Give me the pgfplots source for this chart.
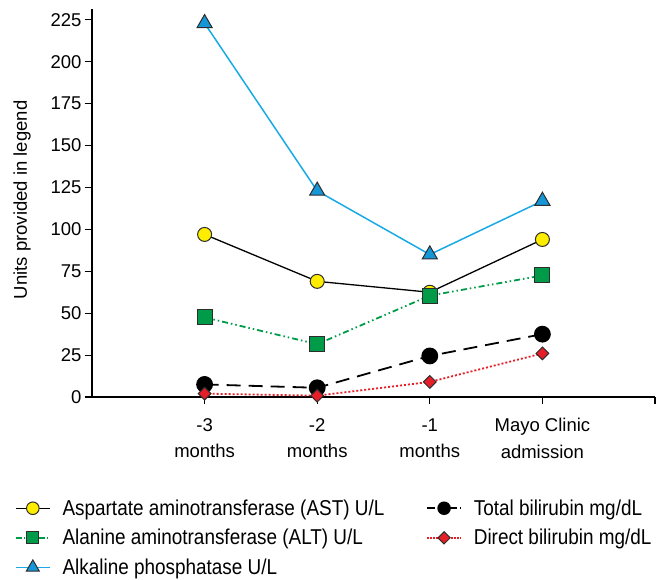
\documentclass[border=0pt]{standalone}
\usepackage{fontspec}
\setmainfont{Liberation Sans}
\newfontfamily\legendfont[FakeStretch=0.88]{Liberation Sans}
\usepackage{pgfplots}
\pgfplotsset{compat=1.18}
\definecolor{myyellow}{RGB}{255,237,0}
\definecolor{mygreen}{RGB}{0,155,72}
\definecolor{myblue}{RGB}{25,170,230}
\definecolor{mybluefill}{RGB}{20,150,215}
\definecolor{myred}{RGB}{230,30,40}
\definecolor{edge}{RGB}{45,45,45}
\begin{document}
\begin{tikzpicture}
\useasboundingbox (0,0) rectangle (660pt,579pt);
\begin{axis}[
  at={(92pt,182pt)}, anchor=south west,
  scale only axis, width=563pt, height=388pt,
  xmin=-1, xmax=4, ymin=0, ymax=231.5,
  axis x line*=bottom, axis y line*=left,
  clip=false,
  xtick={0,1,2,3,4},
  xticklabels={{-3\\months},{-2\\months},{-1\\months},{Mayo Clinic\\admission},{}},
  ytick={0,25,50,75,100,125,150,175,200,225},
  tick align=outside, major tick length=7pt,
  tick style={black, line width=1.2pt},
  axis line style={black, line width=1.5pt},
  /pgf/number format/assume math mode=true,
  ticklabel style={font=\fontsize{18.5}{26.5}\selectfont},
  xticklabel style={align=center, yshift=-11pt},
  ylabel={Units provided in legend},
  ylabel style={font=\fontsize{18.5}{22}\selectfont, at={(axis description cs:-0.124,0.508)}, anchor=center},
  legend columns=3, transpose legend,
  legend style={at={(axis description cs:-0.137,-0.259)}, anchor=north west, draw=none, fill=none, inner sep=0pt,
    font=\legendfont\fontsize{21.5}{25}\selectfont, row sep=8.5pt,
    /tikz/every even column/.append style={column sep=40pt},
    /tikz/every odd column/.append style={column sep=10pt}},
  legend cell align=left,
  legend image code/.code={\draw[mark repeat=2,mark phase=2,#1] plot coordinates {(0pt,0pt) (17pt,0pt) (34pt,0pt)};},
]
\addplot[forget plot, black, line width=1.3pt, mark=*, mark size=7pt, mark options={solid, fill=myyellow, draw=edge, line width=1pt}]
  coordinates {(0,97) (1,69) (2,62.5) (3,94)};
\addplot[forget plot, mygreen, line width=1.8pt, dash pattern=on 6pt off 3pt on 1.5pt off 3pt on 1.5pt off 3pt, mark=square*, mark size=7.5pt, mark options={solid, fill=mygreen, draw=edge, line width=1pt}]
  coordinates {(0,47.5) (1,31.5) (2,60.5) (3,72.5)};
\addplot[forget plot, myblue, line width=1.5pt, mark=triangle*, mark size=8.7pt, mark options={solid, fill=mybluefill, draw=edge, line width=1pt}]
  coordinates {(0,223) (1,123) (2,85) (3,117)};
\addplot[forget plot, black, line width=1.8pt, dash pattern=on 14pt off 8pt, mark=*, mark size=7.5pt, mark options={solid, fill=black, draw=black}]
  coordinates {(0,7.5) (1,5.5) (2,24.5) (3,37.5)};
\addplot[forget plot, myred, line width=1.8pt, dash pattern=on 2pt off 2pt, mark=square*, mark size=4.5pt, mark options={solid, rotate=45, fill=myred, draw=edge, line width=1pt}]
  coordinates {(0,2) (1,0.8) (2,9) (3,26)};

\addlegendimage{black, line width=1.2pt, mark=*, mark size=6.3pt, mark options={solid, fill=myyellow, draw=edge, line width=1pt}}
\addlegendentry{Aspartate aminotransferase (AST) U/L}
\addlegendimage{mygreen, line width=1.5pt, dash pattern=on 6pt off 2pt on 1.5pt off 2pt, mark=square*, mark size=6pt, mark options={solid, fill=mygreen, draw=edge, line width=1pt}}
\addlegendentry{Alanine aminotransferase (ALT) U/L}
\addlegendimage{myblue, line width=1.5pt, mark=triangle*, mark size=7.5pt, mark options={solid, fill=mybluefill, draw=edge, line width=1pt}}
\addlegendentry{Alkaline phosphatase U/L}
\addlegendimage{black, line width=1.5pt, dash pattern=on 8pt off 3pt, mark=*, mark size=6pt, mark options={solid, fill=black, draw=black}}
\addlegendentry{Total bilirubin mg/dL}
\addlegendimage{myred, line width=1.5pt, dash pattern=on 1.5pt off 1.5pt, mark=square*, mark size=4.3pt, mark options={solid, rotate=45, fill=myred, draw=edge, line width=1pt}}
\addlegendentry{Direct bilirubin mg/dL}
\end{axis}
\end{tikzpicture}
\end{document}
